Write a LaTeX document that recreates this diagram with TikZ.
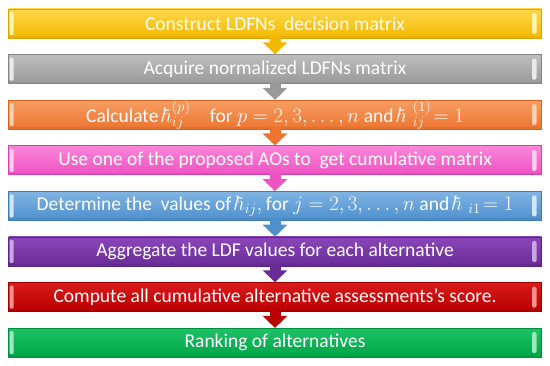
\documentclass[tikz,border=0pt]{standalone}
\usepackage{fontspec}
\setmainfont{Carlito}
\usetikzlibrary{arrows.meta}
\definecolor{c1t}{HTML}{FFD84A}\definecolor{c1b}{HTML}{F3B800}\definecolor{c1e}{HTML}{FFF3B0}\definecolor{c1d}{HTML}{D9A300}
\definecolor{c2t}{HTML}{BEBEBE}\definecolor{c2b}{HTML}{999999}\definecolor{c2e}{HTML}{EAEAEA}\definecolor{c2d}{HTML}{858585}
\definecolor{c3t}{HTML}{F79E63}\definecolor{c3b}{HTML}{EC7430}\definecolor{c3e}{HTML}{FBD0B0}\definecolor{c3d}{HTML}{D9621F}
\definecolor{c4t}{HTML}{FB85D8}\definecolor{c4b}{HTML}{EE52C3}\definecolor{c4e}{HTML}{FDCDEE}\definecolor{c4d}{HTML}{D640AE}
\definecolor{c5t}{HTML}{80B4E4}\definecolor{c5b}{HTML}{4E8FCD}\definecolor{c5e}{HTML}{D2E6F7}\definecolor{c5d}{HTML}{3F7DBA}
\definecolor{c6t}{HTML}{8A46B8}\definecolor{c6b}{HTML}{692C97}\definecolor{c6e}{HTML}{C9A5E4}\definecolor{c6d}{HTML}{5A2284}
\definecolor{c7t}{HTML}{D91A1A}\definecolor{c7b}{HTML}{B80000}\definecolor{c7e}{HTML}{F59090}\definecolor{c7d}{HTML}{A00000}
\definecolor{c8t}{HTML}{1DC264}\definecolor{c8b}{HTML}{00A548}\definecolor{c8e}{HTML}{9BEBBE}\definecolor{c8d}{HTML}{008F3C}
\tikzset{
  stepbox/.style={draw=#1d, line width=0.6pt, top color=#1t, bottom color=#1b,
    minimum width=533pt, minimum height=29pt, inner sep=0pt, text=white,
    font=\fontsize{19.5}{22}\selectfont,
    path picture={
      \fill[#1e, rounded corners=1pt]
        ([xshift=1.2pt,yshift=3pt]path picture bounding box.south west)
        rectangle ([xshift=5pt,yshift=-3pt]path picture bounding box.north west);
      \fill[#1e, rounded corners=1.5pt]
        ([xshift=-9.5pt,yshift=4pt]path picture bounding box.south east)
        rectangle ([xshift=-5pt,yshift=-4pt]path picture bounding box.north east);
      \fill[#1d, opacity=0.35]
        ([yshift=2pt]path picture bounding box.south west)
        rectangle (path picture bounding box.south east);
    }},
  flow/.style={draw=#1, line width=11pt, -{Triangle[length=12pt,width=24pt]}}
}
\begin{document}
\begin{tikzpicture}[x=1pt,y=-1pt]
\useasboundingbox (0,0) rectangle (550,366);
\node[stepbox=c1] (b1) at (275,23.5) {Construct LDFNs~ decision matrix};
\node[stepbox=c2] (b2) at (275,69.1) {Acquire normalized LDFNs matrix};
\node[stepbox=c3] (b3) at (275,114.7) {Calculate $\hbar^{(p)}_{ij}$\quad for $p=2,3,\dots,n$ and $\hbar\;^{(1)}_{ij}\!=1$};
\node[stepbox=c4] (b4) at (275,160.3) {Use one of the proposed AOs to~ get cumulative matrix};
\node[stepbox=c5] (b5) at (275,205.9) {Determine the~ values of $\hbar_{ij},\mathrm{for}\ j=2,3,\dots,n\ \mathrm{and}\ \hbar\;_{i1}\!=1$};
\node[stepbox=c6] (b6) at (275,251.5) {Aggregate the LDF values for each alternative};
\node[stepbox=c7] (b7) at (275,297.1) {Compute all cumulative alternative assessments's score.};
\node[stepbox=c8] (b8) at (275,342.7) {Ranking of alternatives};
\draw[flow=c1b] ([yshift=2pt]b1.south) -- (b2.north);
\draw[flow=c2b] ([yshift=2pt]b2.south) -- (b3.north);
\draw[flow=c3b] ([yshift=2pt]b3.south) -- (b4.north);
\draw[flow=c4b] ([yshift=2pt]b4.south) -- (b5.north);
\draw[flow=c5b] ([yshift=2pt]b5.south) -- (b6.north);
\draw[flow=c6b] ([yshift=2pt]b6.south) -- (b7.north);
\draw[flow=c7b] ([yshift=2pt]b7.south) -- (b8.north);
\end{tikzpicture}
\end{document}
